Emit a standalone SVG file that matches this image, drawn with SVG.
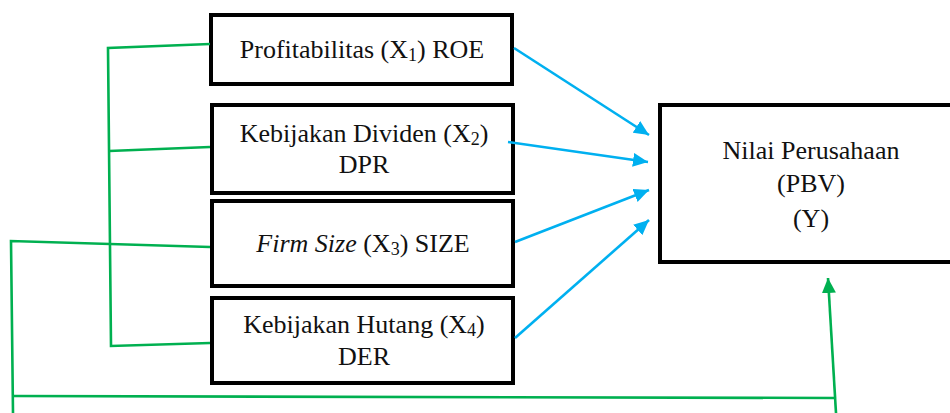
<svg xmlns="http://www.w3.org/2000/svg" width="950" height="413" viewBox="0 0 950 413">
<style>
.box{fill:#fff;stroke:#000;stroke-width:4}
.t{font-family:'Liberation Serif','Tinos','Times New Roman','DejaVu Serif',serif;font-size:26px;fill:#111;text-anchor:middle}
.g{fill:none;stroke:#00B050;stroke-width:2.6}
.b{fill:none;stroke:#00B0F0;stroke-width:2.6}
</style>
<defs>
<marker id="ab" markerUnits="userSpaceOnUse" markerWidth="16" markerHeight="14" refX="15" refY="7" orient="auto">
<path d="M0,0 L15,7 L0,14 z" fill="#00B0F0"/>
</marker>
<marker id="ag" markerUnits="userSpaceOnUse" markerWidth="16" markerHeight="14" refX="15" refY="7" orient="auto">
<path d="M0,0 L15,7 L0,14 z" fill="#00B050"/>
</marker>
</defs>
<rect width="950" height="413" fill="#fff"/>
<g id="x1">
<rect class="box" x="211" y="15" width="301" height="69"/>
<text class="t" x="362" y="58">Profitabilitas (X<tspan font-size="18" dy="3">1</tspan><tspan dy="-3">) ROE</tspan></text>
</g>
<g id="x2">
<rect class="box" x="212" y="105" width="301" height="88"/>
<text class="t" x="364" y="142">Kebijakan Dividen (X<tspan font-size="18" dy="3">2</tspan><tspan dy="-3">)</tspan></text>
<text class="t" x="364" y="173">DPR</text>
</g>
<g id="x3">
<rect class="box" x="212" y="201" width="301" height="85"/>
<text class="t" x="363" y="252"><tspan font-style="italic">Firm Size</tspan> (X<tspan font-size="18" dy="3">3</tspan><tspan dy="-3">) SIZE</tspan></text>
</g>
<g id="x4">
<rect class="box" x="212" y="298" width="301" height="85"/>
<text class="t" x="364" y="333">Kebijakan Hutang (X<tspan font-size="18" dy="3">4</tspan><tspan dy="-3">)</tspan></text>
<text class="t" x="364" y="365">DER</text>
</g>
<g id="y">
<rect class="box" x="660" y="105" width="300" height="157"/>
<text class="t" x="811" y="159">Nilai Perusahaan</text>
<text class="t" x="811" y="192">(PBV)</text>
<text class="t" x="811" y="227">(Y)</text>
</g>
<g id="connectors">
<polyline class="g" points="210,44 108,48 111,346 210,343"/>
<line class="g" x1="109" y1="151" x2="210" y2="147"/>
<polyline class="g" points="210,247 11,241 13,413"/>
<line class="g" x1="12" y1="396" x2="836" y2="398"/>
<line class="g" x1="836" y1="413" x2="828" y2="278" marker-end="url(#ag)"/>
<line class="b" x1="514" y1="48" x2="649" y2="135" marker-end="url(#ab)"/>
<line class="b" x1="508" y1="142" x2="648" y2="162" marker-end="url(#ab)"/>
<line class="b" x1="515" y1="242" x2="649" y2="190" marker-end="url(#ab)"/>
<line class="b" x1="515" y1="338" x2="649" y2="220" marker-end="url(#ab)"/>
</g>
</svg>
